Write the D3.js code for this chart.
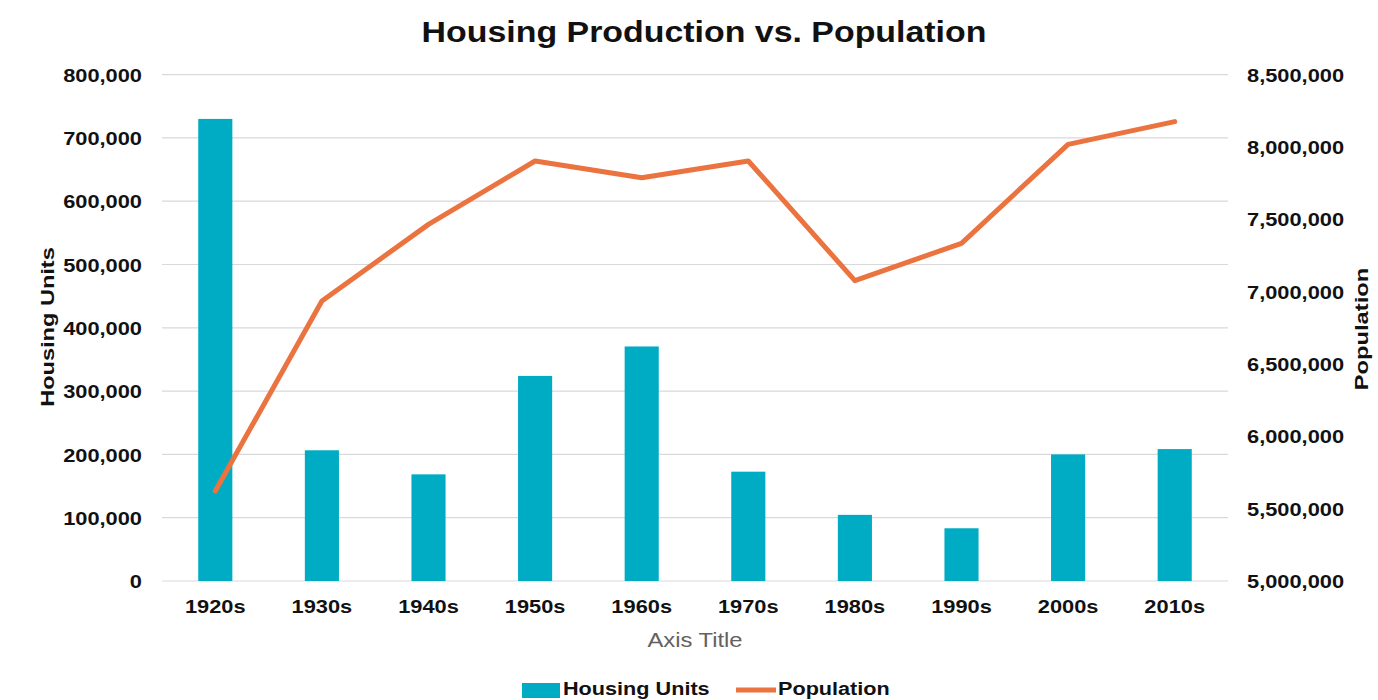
<!DOCTYPE html>
<html>
<head>
<meta charset="utf-8">
<script src="https://cdn.jsdelivr.net/npm/d3@7"></script>
<style>
  html, body { margin: 0; padding: 0; background: #ffffff; }
  svg { display: block; }
  text { font-family: "Liberation Sans", Arial, Helvetica, sans-serif; }
</style>
</head>
<body>
<svg id="chart" width="1378" height="700"></svg>
<script>
// Decades on the category axis
const decades = ["1920s", "1930s", "1940s", "1950s", "1960s", "1970s", "1980s", "1990s", "2000s", "2010s"];
// Housing units produced per decade (left axis)
const housingUnits = [730000, 206500, 168500, 324000, 370500, 172700, 104500, 83300, 200000, 208400];
// Population at each decade (right axis)
const population = [5622000, 6935000, 7465000, 7903000, 7787000, 7903000, 7076000, 7334000, 8018000, 8175000];
// Axis tick values
const leftTicks = [0, 100000, 200000, 300000, 400000, 500000, 600000, 700000, 800000];
const rightTicks = [5000000, 5500000, 6000000, 6500000, 7000000, 7500000, 8000000, 8500000];

const svg = d3.select("#chart");
const plot = { left: 162, right: 1228, top: 74.6, bottom: 581 };
const BAR = "#00ACC4", LINE = "#EB7340", GRID = "#d9d9d9", INK = "#111111";

const x = d3.scaleBand().domain(decades).range([plot.left, plot.right])
  .paddingInner(0.68).paddingOuter(0.34);
const yL = d3.scaleLinear().domain([0, 800000]).range([plot.bottom, plot.top]);
const yR = d3.scaleLinear().domain([5000000, 8500000]).range([plot.bottom, plot.top]);
const fmt = d3.format(",");

// Horizontal gridlines
svg.append("g").selectAll("line").data(leftTicks).join("line")
  .attr("x1", plot.left).attr("x2", plot.right)
  .attr("y1", d => yL(d)).attr("y2", d => yL(d))
  .attr("stroke", GRID).attr("stroke-width", 1.2);

// Bars
svg.append("g").selectAll("rect").data(decades).join("rect")
  .attr("x", d => x(d))
  .attr("width", x.bandwidth())
  .attr("y", (d, i) => yL(housingUnits[i]))
  .attr("height", (d, i) => yL(0) - yL(housingUnits[i]))
  .attr("fill", BAR);

// Population line
const line = d3.line()
  .x((d, i) => x(decades[i]) + x.bandwidth() / 2)
  .y(d => yR(d));
svg.append("path").datum(population)
  .attr("d", line)
  .attr("fill", "none")
  .attr("stroke", LINE)
  .attr("stroke-width", 5)
  .attr("stroke-linejoin", "round")
  .attr("stroke-linecap", "round");

// Axes (labels only, no domain or tick marks)
function styleAxis(g) {
  g.select(".domain").remove();
  g.selectAll(".tick line").remove();
}
const tickSX = 1.18;
svg.append("g").attr("transform", `translate(${plot.left},0)`)
  .call(d3.axisLeft(yL).tickValues(leftTicks).tickFormat(fmt))
  .call(styleAxis)
  .call(g => g.selectAll("text")
    .attr("x", -20 / tickSX).attr("dy", "0.36em")
    .attr("transform", `scale(${tickSX},1)`)
    .attr("font-size", 18.5).attr("font-weight", "bold").attr("fill", INK)
    .attr("text-anchor", "end"));

svg.append("g").attr("transform", `translate(${plot.right},0)`)
  .call(d3.axisRight(yR).tickValues(rightTicks).tickFormat(fmt))
  .call(styleAxis)
  .call(g => g.selectAll("text")
    .attr("x", 19 / tickSX).attr("dy", "0.36em")
    .attr("transform", `scale(${tickSX},1)`)
    .attr("font-size", 18.5).attr("font-weight", "bold").attr("fill", INK)
    .attr("text-anchor", "start"));

svg.append("g").attr("transform", `translate(0,${plot.bottom})`)
  .call(d3.axisBottom(x))
  .call(styleAxis)
  .call(g => g.selectAll(".tick text")
    .attr("y", 32).attr("dy", 0)
    .attr("transform", `scale(${tickSX},1)`)
    .attr("font-size", 18.5).attr("font-weight", "bold").attr("fill", INK))
  .call(g => g.selectAll(".tick").each(function () {
    // keep labels centred on their ticks while stretched
    const t = d3.select(this);
    const m = /translate\(([-\d.]+),/.exec(t.attr("transform"));
    const cx = +m[1];
    t.select("text").attr("x", 0);
    t.attr("transform", `translate(${cx},0)`);
  }));

// Title
svg.append("text")
  .attr("transform", "translate(704,42) scale(1.13,1)")
  .attr("text-anchor", "middle")
  .attr("font-size", 30).attr("font-weight", "bold").attr("fill", INK)
  .text("Housing Production vs. Population");

// Axis titles
svg.append("text")
  .attr("transform", "translate(54,327) rotate(-90) scale(1.24,1)")
  .attr("text-anchor", "middle")
  .attr("font-size", 19).attr("font-weight", "bold").attr("fill", INK)
  .text("Housing Units");

svg.append("text")
  .attr("transform", "translate(1368,329) rotate(-90) scale(1.25,1)")
  .attr("text-anchor", "middle")
  .attr("font-size", 19).attr("font-weight", "bold").attr("fill", INK)
  .text("Population");

svg.append("text")
  .attr("transform", "translate(695,647) scale(1.22,1)")
  .attr("text-anchor", "middle")
  .attr("font-size", 19.5).attr("fill", "#626262")
  .text("Axis Title");

// Legend
const legend = svg.append("g");
legend.append("rect").attr("x", 522).attr("y", 683).attr("width", 38).attr("height", 15).attr("fill", BAR);
legend.append("text")
  .attr("transform", "translate(563,695) scale(1.17,1)")
  .attr("font-size", 18.5).attr("font-weight", "bold").attr("fill", INK)
  .text("Housing Units");
legend.append("line").attr("x1", 736).attr("x2", 776).attr("y1", 690).attr("y2", 690)
  .attr("stroke", LINE).attr("stroke-width", 5);
legend.append("text")
  .attr("transform", "translate(778,695) scale(1.17,1)")
  .attr("font-size", 18.5).attr("font-weight", "bold").attr("fill", INK)
  .text("Population");
</script>
</body>
</html>
